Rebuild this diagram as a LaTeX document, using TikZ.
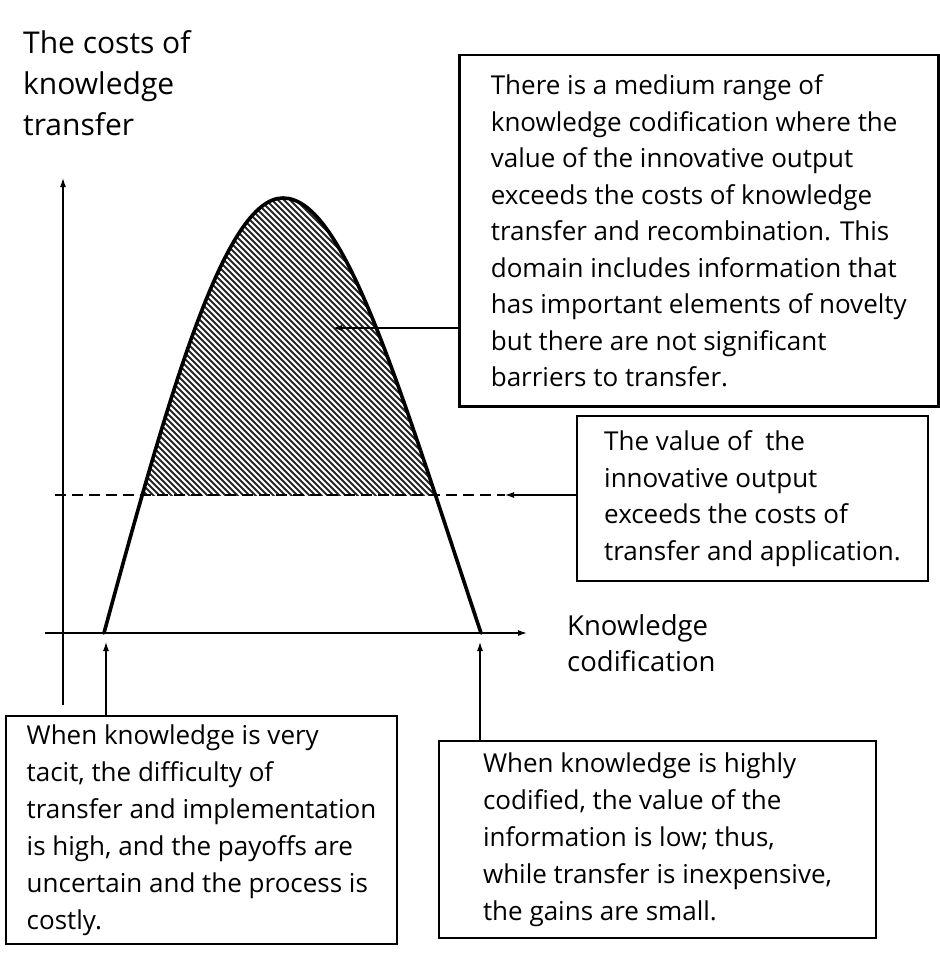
\documentclass[tikz,border=0pt]{standalone}
\usepackage{fontspec}
\setmainfont{Open Sans}
\usetikzlibrary{arrows.meta}

\tikzset{
  box/.style={draw, line width=2pt, anchor=north west, align=left, inner sep=0pt,
    font=\fontsize{26}{36.5}\selectfont},
  lowbox/.style={box, font=\fontsize{26}{37}\selectfont},
  label/.style={anchor=north west, align=left, inner sep=0pt},
  axis/.style={line width=1.3pt, -{Latex[length=9pt,width=6pt]}},
  pointer/.style={line width=1.1pt, -{Latex[length=9pt,width=6pt]}},
  curve/.style={line width=3.6pt, line cap=round, line join=round},
  level/.style={line width=2pt, dash pattern=on 11pt off 6pt},
  hatch/.style={line width=1.8pt, black!85}
}

\begin{document}
\begin{tikzpicture}[x=1pt,y=-1pt]
        % Coordinates
        \coordinate (Ybot) at (63,705);
        \coordinate (Ytop) at (63,178);
        \coordinate (Xleft) at (45,633);
        \coordinate (Xend) at (527,633);
        \coordinate (Lfoot) at (104,633);
        \coordinate (Peak) at (283,198);
        \coordinate (Rfoot) at (481,633);
        \coordinate (Dleft) at (55,495);
        \coordinate (Dtip) at (505,495);
        \coordinate (Htip) at (333,328);
        \coordinate (Ltip) at (106,642);
        \coordinate (Rtip) at (480,642);

        \useasboundingbox (0,0) rectangle (939,979);

        % Hatched domain
        \begin{scope}
          \clip (0,0) rectangle (939,495);
          \clip (Lfoot) .. controls (170,390) and (225,198) .. (Peak)
                .. controls (345,198) and (400,390) .. (Rfoot) -- cycle;
          \foreach \x in {-330,-324,...,480}
            \draw[hatch] (\x,180) -- ++(330,330);
        \end{scope}

        % Drawing
        \draw[axis] (Ybot) -- (Ytop);
        \draw[axis] (Xleft) -- (Xend);
        \draw[level] (Dleft) -- (Dtip);
        \draw[curve] (Lfoot) .. controls (170,390) and (225,198) .. (Peak)
              .. controls (345,198) and (400,390) .. (Rfoot);

        % Labels
        \node[label, font=\fontsize{30}{41}\selectfont] (ytitle) at (23,30)
          {The costs of\\knowledge\\transfer};
        \node[label, font=\fontsize{27.5}{36}\selectfont] (xtitle) at (567,614)
          {Knowledge\\codification};

        % Boxes
        \node[box, line width=2.5pt, minimum width=479pt, minimum height=351pt] (rangebox) at (458,54)
          {There is a medium range of\\knowledge codification where the\\value of the innovative output\\exceeds the costs of knowledge\\transfer and recombination. This\\domain includes information that\\has important elements of novelty\\but there are not significant\\barriers to transfer.};
        \node[box, minimum width=351pt, minimum height=165pt] (valuebox) at (576,415)
          {The value of\ \ the\\innovative output\\exceeds the costs of\\transfer and application.};
        \node[lowbox, minimum width=391pt, minimum height=228pt] (tacitbox) at (5,715)
          {When knowledge is very\\tacit, the difficulty of\\transfer and implementation\\is high, and the payoffs are\\uncertain and the process is\\costly.};
        \node[lowbox, minimum width=437pt, minimum height=197pt] (codedbox) at (438,740)
          {When knowledge is highly\\codified, the value of the\\information is low; thus,\\while transfer is inexpensive,\\the gains are small.};

        % Pointers
        \draw[pointer] (rangebox.west |- Htip) -- (Htip);
        \draw[pointer] (valuebox.west |- Dtip) -- (Dtip);
        \draw[pointer] (tacitbox.north -| Ltip) -- (Ltip);
        \draw[pointer] (codedbox.north -| Rtip) -- (Rtip);
\end{tikzpicture}
\end{document}
